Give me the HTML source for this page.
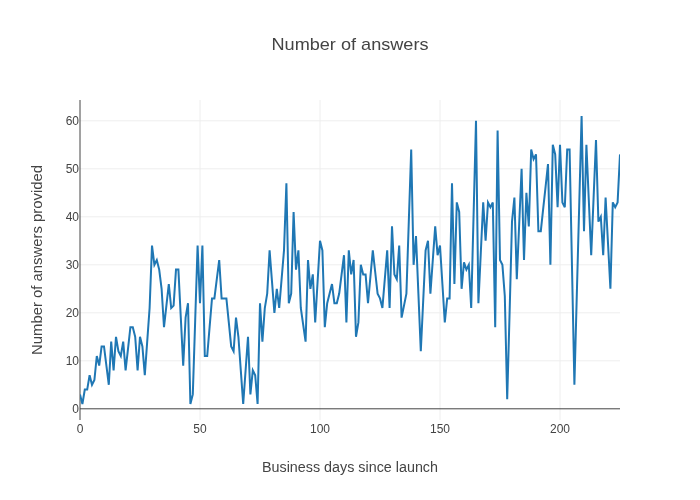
<!DOCTYPE html>
<html><head><meta charset="utf-8"><style>
html,body{margin:0;padding:0;background:#fff;}
svg{display:block;will-change:transform;} body{-webkit-font-smoothing:antialiased;}
text{font-family:"Liberation Sans",sans-serif;fill:#444;}
</style></head><body>
<svg width="700" height="500" viewBox="0 0 700 500">
<rect width="700" height="500" fill="#fff"/>
<defs><clipPath id="c"><rect x="80" y="100" width="540" height="320"/></clipPath></defs>
<g stroke="#eee" stroke-width="1">
<path d="M200,100V420M320,100V420M440,100V420M560,100V420"/>
<path d="M80,360.8H620M80,312.8H620M80,264.8H620M80,216.8H620M80,168.8H620M80,120.8H620"/>
</g>
<path d="M80,408.8H620" stroke="#444" stroke-width="1"/>
<path d="M80,100V420" stroke="#444" stroke-width="1"/>
<g clip-path="url(#c)">
<path d="M80.00,394.40 L82.40,404.00 L84.80,389.60 L87.20,389.60 L89.60,375.20 L92.00,384.80 L94.40,380.00 L96.80,356.00 L99.20,365.60 L101.60,346.40 L104.00,346.40 L106.40,365.60 L108.80,384.80 L111.20,341.60 L113.60,370.40 L116.00,336.80 L118.40,351.20 L120.80,356.00 L123.20,341.60 L125.60,370.40 L128.00,348.80 L130.40,327.20 L132.80,327.20 L135.20,336.80 L137.60,370.40 L140.00,336.80 L142.40,346.40 L144.80,375.20 L147.20,341.60 L149.60,308.00 L152.00,245.60 L154.40,264.80 L156.80,260.00 L159.20,269.60 L161.60,288.80 L164.00,327.20 L166.40,305.60 L168.80,284.00 L171.20,308.00 L173.60,305.60 L176.00,269.60 L178.40,269.60 L180.80,317.60 L183.20,365.60 L185.60,317.60 L188.00,303.20 L190.40,404.00 L192.80,394.40 L195.20,320.00 L197.60,245.60 L200.00,303.20 L202.40,245.60 L204.80,356.00 L207.20,356.00 L209.60,327.20 L212.00,298.40 L214.40,298.40 L216.80,279.20 L219.20,260.00 L221.60,298.40 L224.00,298.40 L226.40,298.40 L228.80,322.40 L231.20,346.40 L233.60,351.20 L236.00,317.60 L238.40,336.80 L240.80,370.40 L243.20,404.00 L245.60,370.40 L248.00,336.80 L250.40,394.40 L252.80,370.40 L255.20,375.20 L257.60,404.00 L260.00,303.20 L262.40,341.60 L264.80,308.00 L267.20,293.60 L269.60,250.40 L272.00,281.60 L274.40,312.80 L276.80,288.80 L279.20,308.00 L281.60,279.20 L284.00,250.40 L286.40,183.20 L288.80,303.20 L291.20,293.60 L293.60,212.00 L296.00,269.60 L298.40,250.40 L300.80,308.00 L303.20,324.80 L305.60,341.60 L308.00,260.00 L310.40,288.80 L312.80,274.40 L315.20,322.40 L317.60,281.60 L320.00,240.80 L322.40,250.40 L324.80,327.20 L327.20,303.20 L329.60,293.60 L332.00,284.00 L334.40,303.20 L336.80,303.20 L339.20,293.60 L341.60,274.40 L344.00,255.20 L346.40,322.40 L348.80,250.40 L351.20,274.40 L353.60,260.00 L356.00,336.80 L358.40,322.40 L360.80,264.80 L363.20,274.40 L365.60,274.40 L368.00,303.20 L370.40,276.80 L372.80,250.40 L375.20,272.00 L377.60,293.60 L380.00,298.40 L382.40,308.00 L384.80,279.20 L387.20,250.40 L389.60,308.00 L392.00,226.40 L394.40,274.40 L396.80,279.20 L399.20,245.60 L401.60,317.60 L404.00,305.60 L406.40,293.60 L408.80,221.60 L411.20,149.60 L413.60,264.80 L416.00,236.00 L418.40,293.60 L420.80,351.20 L423.20,300.80 L425.60,250.40 L428.00,240.80 L430.40,293.60 L432.80,260.00 L435.20,226.40 L437.60,255.20 L440.00,245.60 L442.40,284.00 L444.80,322.40 L447.20,298.40 L449.60,298.40 L452.00,183.20 L454.40,284.00 L456.80,202.40 L459.20,212.00 L461.60,288.80 L464.00,262.40 L466.40,269.60 L468.80,264.80 L471.20,308.00 L473.60,214.40 L476.00,120.80 L478.40,303.20 L480.80,252.80 L483.20,202.40 L485.60,240.80 L488.00,202.40 L490.40,207.20 L492.80,202.40 L495.20,327.20 L497.60,130.40 L500.00,260.00 L502.40,264.80 L504.80,296.00 L507.20,399.20 L509.60,312.80 L512.00,221.60 L514.40,197.60 L516.80,279.20 L519.20,224.00 L521.60,168.80 L524.00,260.00 L526.40,192.80 L528.80,226.40 L531.20,149.60 L533.60,159.20 L536.00,154.40 L538.40,231.20 L540.80,231.20 L543.20,208.64 L545.60,186.56 L548.00,164.00 L550.40,264.80 L552.80,144.80 L555.20,154.40 L557.60,207.20 L560.00,144.80 L562.40,202.40 L564.80,207.20 L567.20,149.60 L569.60,149.60 L572.00,267.20 L574.40,384.80 L576.80,295.04 L579.20,205.76 L581.60,116.00 L584.00,231.20 L586.40,144.80 L588.80,200.00 L591.20,255.20 L593.60,197.60 L596.00,140.00 L598.40,221.60 L600.80,216.80 L603.20,255.20 L605.60,197.60 L608.00,243.20 L610.40,288.80 L612.80,202.40 L615.20,207.20 L617.60,202.40 L620.00,154.40" fill="none" stroke="#1f77b4" stroke-width="2" stroke-linejoin="miter"/>
</g>
<g font-size="12" text-anchor="end">
<text x="79" y="412.5">0</text>
<text x="79" y="364.5">10</text>
<text x="79" y="316.5">20</text>
<text x="79" y="268.5">30</text>
<text x="79" y="220.5">40</text>
<text x="79" y="172.5">50</text>
<text x="79" y="124.5">60</text>
</g>
<g font-size="12" text-anchor="middle">
<text x="80" y="433">0</text>
<text x="200" y="433">50</text>
<text x="320" y="433">100</text>
<text x="440" y="433">150</text>
<text x="560" y="433">200</text>
</g>
<text x="350" y="50" font-size="17" text-anchor="middle" textLength="157" lengthAdjust="spacingAndGlyphs">Number of answers</text>
<text x="350" y="471.7" font-size="14" text-anchor="middle" textLength="176" lengthAdjust="spacingAndGlyphs">Business days since launch</text>
<text transform="translate(42,260) rotate(-90)" x="0" y="0" font-size="14" text-anchor="middle" textLength="190" lengthAdjust="spacingAndGlyphs">Number of answers provided</text>
</svg>
</body></html>
